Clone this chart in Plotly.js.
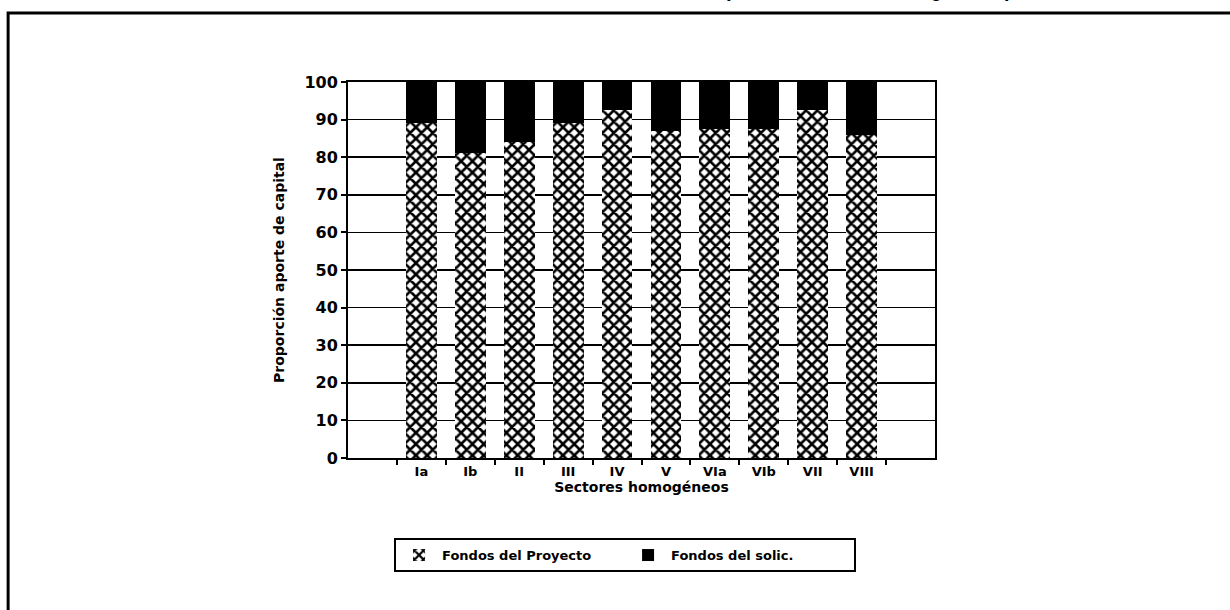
<!DOCTYPE html>
<html>
<head>
<meta charset="utf-8">
<script src="https://cdn.plot.ly/plotly-3.0.1.min.js"></script>
<style>
html,body{margin:0;padding:0;background:#fff;}
#chart{width:1230px;height:610px;}
</style>
</head>
<body>
<div id="chart"></div>
<script>
var sectores = ["Ia", "Ib", "II", "III", "IV", "V", "VIa", "VIb", "VII", "VIII"];
var fondosProyecto = [89, 81, 84, 89, 92.5, 87, 87.5, 87.5, 92.5, 86];
var fondosSolic = fondosProyecto.map(function(v){ return 100 - v; });
var yTicks = [0, 10, 20, 30, 40, 50, 60, 70, 80, 90, 100];

var FONT = "DejaVu Sans, Liberation Sans, sans-serif";

var traces = [
  {
    type: "bar",
    name: "Fondos del Proyecto",
    x: sectores,
    y: fondosProyecto,
    marker: {
      color: "white",
      line: {width: 0},
      pattern: {shape: "x", size: 8, solidity: 0.55, fgcolor: "black", bgcolor: "white"}
    },
    hoverinfo: "x+y"
  },
  {
    type: "bar",
    name: "Fondos del solic.",
    x: sectores,
    y: fondosSolic,
    marker: {color: "black", line: {width: 0}},
    hoverinfo: "x+y"
  }
];

var layout = {
  width: 1230,
  height: 610,
  paper_bgcolor: "white",
  plot_bgcolor: "white",
  barmode: "stack",
  bargap: 0.37,
  margin: {l: 348, r: 295, t: 82, b: 152},
  font: {family: FONT, color: "black", size: 14, weight: "bold"},
  xaxis: {
    type: "category",
    categoryorder: "array",
    categoryarray: sectores,
    range: [-1.5, 10.5],
    showline: true, linecolor: "black", linewidth: 2, mirror: true,
    ticks: "outside", tickson: "boundaries", ticklen: 5, tickwidth: 2, tickcolor: "black",
    showgrid: false,
    tickfont: {family: FONT, size: 13, weight: "bold"},
    title: {text: "Sectores homogéneos", font: {family: FONT, size: 14, weight: "bold"}, standoff: 5},
    fixedrange: true
  },
  yaxis: {
    range: [0, 100],
    tickvals: yTicks,
    ticktext: yTicks.map(String),
    showline: true, linecolor: "black", linewidth: 2, mirror: true,
    ticks: "outside", ticklen: 5, tickwidth: 2, tickcolor: "black",
    showgrid: true, gridcolor: "black", gridwidth: 1.5,
    zeroline: false,
    tickfont: {family: FONT, size: 16, weight: "bold"},
    title: {text: "Proporción aporte de capital", font: {family: FONT, size: 14, weight: "bold"}, standoff: 16},
    fixedrange: true
  },
  showlegend: true,
  legend: {
    orientation: "h",
    x: 0.472, xanchor: "center",
    y: -0.213, yanchor: "top",
    bordercolor: "black", borderwidth: 2,
    bgcolor: "white",
    font: {family: FONT, size: 13, weight: "bold"},
    entrywidth: 178,
    itemwidth: 36,
    traceorder: "normal"
  },
  shapes: [
    {type: "rect", xref: "paper", yref: "paper",
     x0: -0.579, x1: 1.55, y0: -0.45, y1: 1.1835,
     line: {color: "black", width: 3}, fillcolor: "rgba(0,0,0,0)", layer: "below"}
  ],
  annotations: [
    {xref: "paper", yref: "paper", x: 0.889, y: 1.241, xanchor: "center", yanchor: "middle",
     text: "por sectores homogéneos)", showarrow: false,
     font: {family: "Liberation Mono, DejaVu Sans Mono, monospace", size: 20, weight: "bold", color: "black"}}
  ]
};

Plotly.newPlot("chart", traces, layout, {displayModeBar: false, staticPlot: true});
</script>
</body>
</html>
